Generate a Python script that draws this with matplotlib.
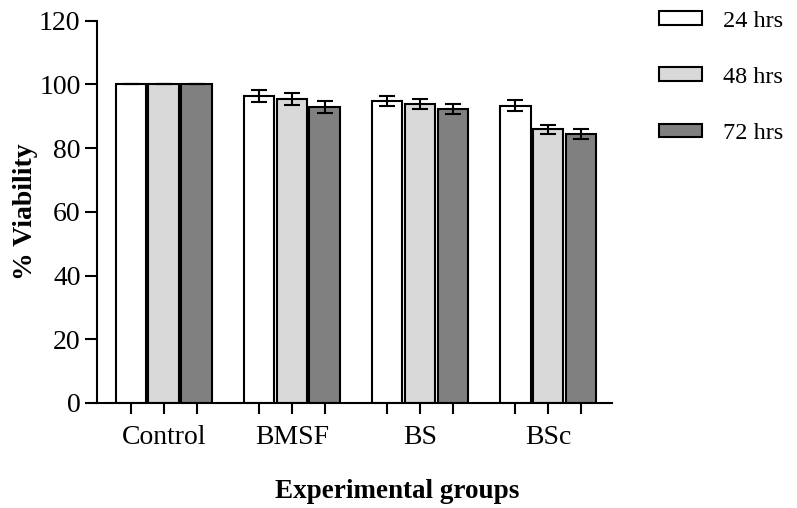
import matplotlib.pyplot as plt
import numpy as np

plt.rcParams['font.family'] = ['Liberation Serif', 'DejaVu Serif']

groups = ['Control', 'BMSF', 'BS', 'BSc']
series = ['24 hrs', '48 hrs', '72 hrs']
colors = ['#ffffff', '#d9d9d9', '#808080']

viability = [
    [100.0, 96.4, 94.7, 93.4],   # 24 hrs
    [100.0, 95.4, 93.9, 85.9],   # 48 hrs
    [100.0, 92.8, 92.3, 84.4],   # 72 hrs
]
errors = [
    [0.0, 2.0, 1.6, 1.6],
    [0.0, 1.8, 1.6, 1.5],
    [0.0, 1.9, 1.6, 1.5],
]

fig = plt.figure(figsize=(7.97, 5.08), dpi=100)
ax = fig.add_axes([0.122, 0.207, 0.646, 0.752])

x = np.arange(len(groups))
step = 0.257
width = 0.24
bar_pos = []
handles = []
for i, name in enumerate(series):
    pos = x + (i - 1) * step
    bar_pos.extend(pos)
    b = ax.bar(pos, viability[i], width, color=colors[i], edgecolor='black',
               linewidth=1.5, label=name, zorder=2)
    ax.errorbar(pos, viability[i], yerr=errors[i], fmt='none', ecolor='black',
                elinewidth=1.5, capsize=6, capthick=1.5, zorder=3)
    handles.append(b)

ax.set_ylim(0, 120)
ax.set_xlim(-0.52, 3.5)
ax.set_yticks(np.arange(0, 121, 20))
# group names on major ticks, short marks under every bar on minor ticks
ax.xaxis.remove_overlapping_locs = False
ax.set_xticks(x, groups)
ax.set_xticks(sorted(bar_pos), minor=True)
ax.tick_params(axis='x', which='major', length=0, pad=16, labelsize=20)
ax.tick_params(axis='x', which='minor', length=8, width=1.5)
ax.tick_params(axis='y', length=9, width=1.5, labelsize=20, pad=3)

for s in ['top', 'right']:
    ax.spines[s].set_visible(False)
for s in ['left', 'bottom']:
    ax.spines[s].set_linewidth(1.5)

ax.set_ylabel('% Viability', fontsize=20, fontweight='bold', labelpad=1)
fig.text(0.498, 0.032, 'Experimental groups', fontsize=19.5, fontweight='bold',
         ha='center', va='center')

fig.legend(handles=handles, labels=series, loc='upper left',
           bbox_to_anchor=(0.8, 1.022), frameon=False, fontsize=17.5,
           handlelength=1.75, handleheight=0.5, labelspacing=1.45,
           handletextpad=0.85)

fig.savefig('out.png', dpi=100)
